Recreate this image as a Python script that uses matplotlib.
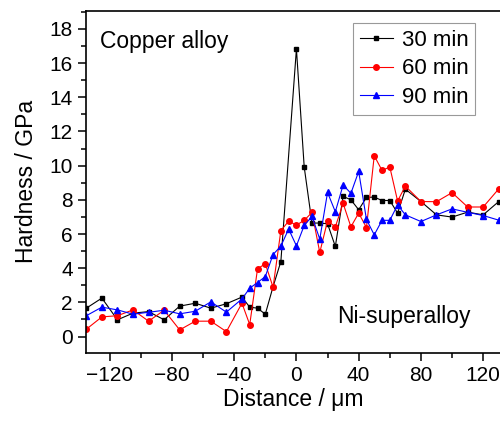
import matplotlib
matplotlib.use('Agg')
import matplotlib.pyplot as plt
from matplotlib.ticker import MultipleLocator

plt.rcParams['font.family'] = ['Liberation Sans', 'DejaVu Sans']

# distance positions (um)
dist_30 = [-135, -125, -115, -105, -95, -85, -75, -65, -55, -45, -35, -30, -25, -20, -15, -10,
           0, 5, 10, 15, 20, 25, 30, 35, 40, 45, 50, 55, 60, 65, 70, 80, 90, 100, 110, 120, 130]
dist_60_90 = [-135, -125, -115, -105, -95, -85, -75, -65, -55, -45, -35, -30, -25, -20, -15, -10,
              -5, 0, 5, 10, 15, 20, 25, 30, 35, 40, 45, 50, 55, 60, 65, 70, 80, 90, 100, 110, 120, 130]

# hardness (GPa)
hard_30 = [1.66, 2.25, 0.98, 1.37, 1.46, 0.98, 1.78, 1.95, 1.66, 1.92, 2.31, 1.72, 1.66, 1.31, 2.92, 4.39,
           16.83, 9.92, 6.64, 6.64, 6.6, 5.27, 8.2, 8.0, 7.42, 8.14, 8.16, 7.96, 7.96, 7.22, 8.62,
           7.9, 7.12, 6.99, 7.28, 7.12, 7.9]
hard_60 = [0.43, 1.15, 1.22, 1.56, 0.9, 1.54, 0.39, 0.9, 0.9, 0.29, 1.95, 0.7, 3.96, 4.26, 2.89, 6.2,
           6.75, 6.52, 6.8, 7.26, 4.92, 6.77, 6.42, 7.79, 6.42, 7.22, 6.38, 10.58, 9.72, 9.92, 7.93, 8.8,
           7.9, 7.89, 8.42, 7.58, 7.58, 8.64]
hard_90 = [1.22, 1.72, 1.56, 1.31, 1.42, 1.54, 1.33, 1.48, 2.03, 1.43, 2.2, 2.83, 3.16, 3.51, 4.8, 5.29,
           6.29, 5.31, 6.5, 7.03, 5.7, 8.43, 7.3, 8.87, 8.38, 9.66, 6.85, 5.95, 6.8, 6.8, 7.7, 7.12,
           6.73, 7.12, 7.47, 7.27, 7.08, 6.81]

fig = plt.figure(figsize=(5, 4.21), dpi=100)
ax = fig.add_axes([0.172, 0.162, 0.828, 0.812])

ax.plot(dist_30, hard_30, color='black', lw=0.8, marker='s', ms=3.5, label='30 min')
ax.plot(dist_60_90, hard_60, color='red', lw=0.8, marker='o', ms=4, label='60 min')
ax.plot(dist_60_90, hard_90, color='blue', lw=0.8, marker='^', ms=4.5, label='90 min')

ax.set_xlim(-135.2, 130.8)
ax.set_ylim(-0.95, 19.05)
ax.xaxis.set_major_locator(MultipleLocator(40))
ax.xaxis.set_minor_locator(MultipleLocator(20))
ax.yaxis.set_major_locator(MultipleLocator(2))
ax.yaxis.set_minor_locator(MultipleLocator(1))
ax.tick_params(which='both', direction='out', labelsize=15, width=1.1)
ax.tick_params(which='major', length=6)
ax.tick_params(which='minor', length=3.5)
for s in ['left', 'bottom', 'top']:
    ax.spines[s].set_linewidth(1.2)
ax.spines['right'].set_visible(False)

ax.set_xlabel('Distance / \u03bcm', fontsize=16.5, labelpad=2)
ax.set_ylabel('Hardness / GPa', fontsize=16.5, labelpad=8)

ax.text(-126, 17.25, 'Copper alloy', fontsize=16.5, va='center', ha='left')
ax.text(26, 1.2, 'Ni-superalloy', fontsize=16.5, va='center', ha='left')

leg = ax.legend(loc='upper left', bbox_to_anchor=(0.645, 0.965), borderaxespad=0, fontsize=16,
                frameon=True, fancybox=False, edgecolor='gray', handlelength=1.5, handletextpad=0.4,
                labelspacing=0.35, borderpad=0.3)
leg.get_frame().set_linewidth(0.8)

fig.savefig('out.png', dpi=100)
